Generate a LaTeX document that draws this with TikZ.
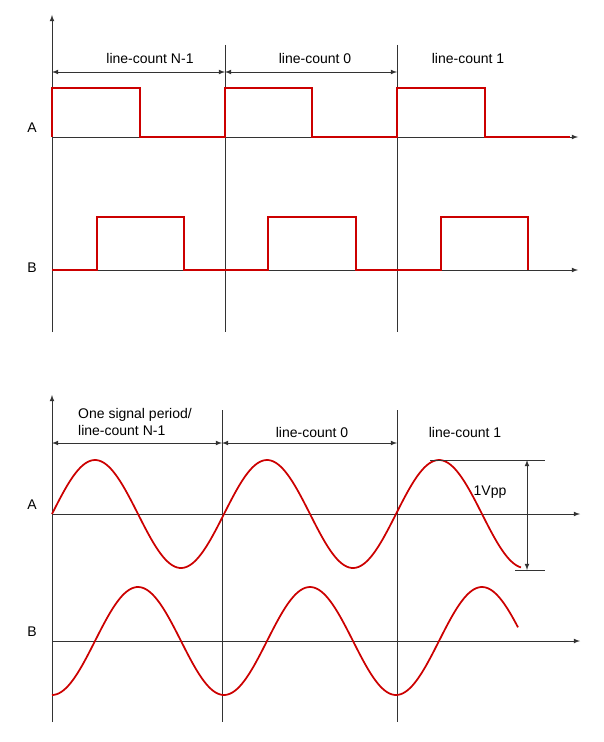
\documentclass[tikz,border=0pt]{standalone}
\usepackage{fontspec}
\setmainfont{Liberation Sans}
\begin{document}
\begin{tikzpicture}[x=0.75pt,y=-0.75pt,
  ax/.style={draw=black!80,line width=0.6pt},
  axa/.style={ax,-latex},
  dim/.style={ax,latex-latex},
  sq/.style={draw=red!80!black,line width=2pt},
  sn/.style={draw=red!80!black,line width=1.3pt},
  lbl/.style={font=\fontsize{10.5}{12.5}\selectfont,inner sep=1pt}]
\fill[white] (0,0) rectangle (603,742);
% ---------- top panel ----------
\coordinate (t0) at (52,15); \coordinate (t1) at (52,332);
\draw[axa] (t1) -- (t0);
\draw[ax] (225,45) -- (225,332);
\draw[ax] (397,45) -- (397,332);
\coordinate (d0) at (52,72); \coordinate (d1) at (225,72); \coordinate (d2) at (397,72);
\draw[dim] (d0) -- (d1); \draw[dim] (d1) -- (d2);
\node[lbl] (l1) at (150,58) {line-count N-1};
\node[lbl] (l2) at (315,58) {line-count 0};
\node[lbl] (l3) at (468,58) {line-count 1};
\coordinate (a0) at (52,137); \coordinate (a1) at (578,137);
\draw[axa] (a0) -- (a1);
\coordinate (b0) at (52,270); \coordinate (b1) at (578,270);
\draw[axa] (b0) -- (b1);
\node[lbl] (A1) at (32,128) {A};
\node[lbl] (B1) at (32,268) {B};
\draw[sq] (52,137) -- (52,88) -- (140,88) -- (140,137) -- (225,137) -- (225,88) -- (312,88) -- (312,137)
  -- (397,137) -- (397,88) -- (485,88) -- (485,137) -- (570,137);
\draw[sq] (52,270) -- (97,270) -- (97,217) -- (184,217) -- (184,270) -- (268,270) -- (268,217) -- (356,217)
  -- (356,270) -- (441,270) -- (441,217) -- (528,217) -- (528,270);
% ---------- bottom panel ----------
\coordinate (u0) at (52,395); \coordinate (u1) at (52,722);
\draw[axa] (u1) -- (u0);
\draw[ax] (222,410) -- (222,722);
\draw[ax] (397,410) -- (397,722);
\coordinate (e0) at (52,443); \coordinate (e1) at (222,443); \coordinate (e2) at (397,443);
\draw[dim] (e0) -- (e1); \draw[dim] (e1) -- (e2);
\node[lbl,align=left] (m1) at (135,422) {One signal period/\\line-count N-1};
\node[lbl] (m2) at (312,432) {line-count 0};
\node[lbl] (m3) at (465,432) {line-count 1};
\coordinate (c0) at (52,514); \coordinate (c1) at (580,514);
\draw[axa] (c0) -- (c1);
\coordinate (f0) at (52,641); \coordinate (f1) at (580,641);
\draw[axa] (f0) -- (f1);
\node[lbl] (A2) at (32,505) {A};
\node[lbl] (B2) at (32,632) {B};
\draw[sn] plot[domain=52:521,samples=200,smooth] (\x,{514-54*sin((\x-52)/172*360)});
\draw[sn] plot[domain=52:518,samples=200,smooth] (\x,{641+54*cos((\x-52)/172*360)});
\coordinate (v0) at (430,460); \coordinate (v1) at (545,460);
\coordinate (w0) at (515,570); \coordinate (w1) at (545,570);
\draw[ax] (v0) -- (v1); \draw[ax] (w0) -- (w1);
\coordinate (p0) at (527,460); \coordinate (p1) at (527,570);
\draw[dim] (p0) -- (p1);
\node[lbl] (vpp) at (490,492) {1Vpp};
\end{tikzpicture}
\end{document}
